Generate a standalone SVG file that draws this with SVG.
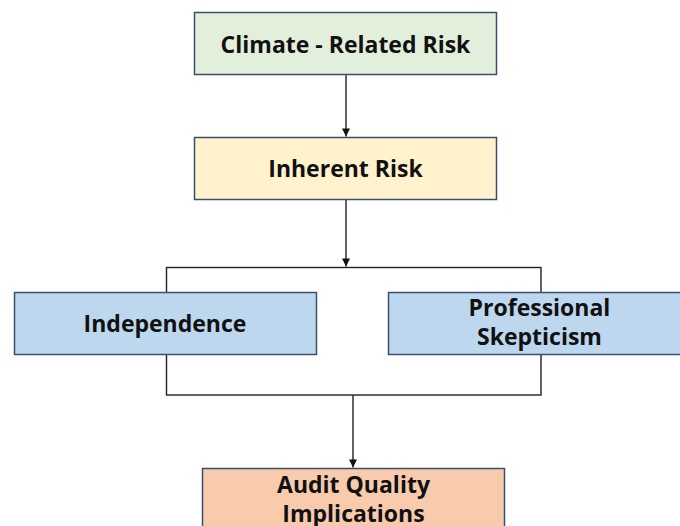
<svg xmlns="http://www.w3.org/2000/svg" width="680" height="526" viewBox="0 0 680 526">
  <style>
    .box { stroke: #3b4e6f; stroke-width: 1.5; }
    .lbl { font-family: "Open Sans", "Liberation Sans", sans-serif; font-weight: bold; font-size: 23px; fill: #111; text-anchor: middle; }
    .conn { fill: none; stroke: #222; stroke-width: 1.4; }
  </style>
  <defs>
    <marker id="arrow" viewBox="0 0 10 10" refX="10" refY="5" markerWidth="9" markerHeight="8" markerUnits="userSpaceOnUse" orient="auto">
      <path d="M0,0 L10,5 L0,10 Z" fill="#111"/>
    </marker>
  </defs>
  <rect width="680" height="526" fill="#ffffff"/>
  <g id="connectors">
    <line class="conn" x1="346" y1="75" x2="346" y2="136.5" marker-end="url(#arrow)"/>
    <line class="conn" x1="346" y1="200" x2="346" y2="266.5" marker-end="url(#arrow)"/>
    <rect class="conn" x="166.5" y="267.5" width="374.5" height="127.5" stroke="#333"/>
    <line class="conn" x1="353" y1="395" x2="353" y2="467.5" marker-end="url(#arrow)"/>
  </g>
  <g id="climate-related-risk">
    <rect class="box" x="194.5" y="12.5" width="302" height="62" fill="#e2efda"/>
    <text class="lbl" x="345.5" y="53">Climate - Related Risk</text>
  </g>
  <g id="inherent-risk">
    <rect class="box" x="194.5" y="137.5" width="302" height="62" fill="#fff2cc"/>
    <text class="lbl" x="345.5" y="177">Inherent Risk</text>
  </g>
  <g id="independence">
    <rect class="box" x="14.5" y="292.5" width="302" height="62" fill="#bdd7ee"/>
    <text class="lbl" x="165" y="332">Independence</text>
  </g>
  <g id="professional-skepticism">
    <rect class="box" x="388.5" y="292.5" width="302" height="62" fill="#bdd7ee"/>
    <text class="lbl" x="539.5" y="316">Professional</text>
    <text class="lbl" x="539.5" y="345">Skepticism</text>
  </g>
  <g id="audit-quality-implications">
    <rect class="box" x="202.5" y="468.5" width="302" height="70" fill="#f8cbad"/>
    <text class="lbl" x="353.5" y="493">Audit Quality</text>
    <text class="lbl" x="353.5" y="522">Implications</text>
  </g>
</svg>
